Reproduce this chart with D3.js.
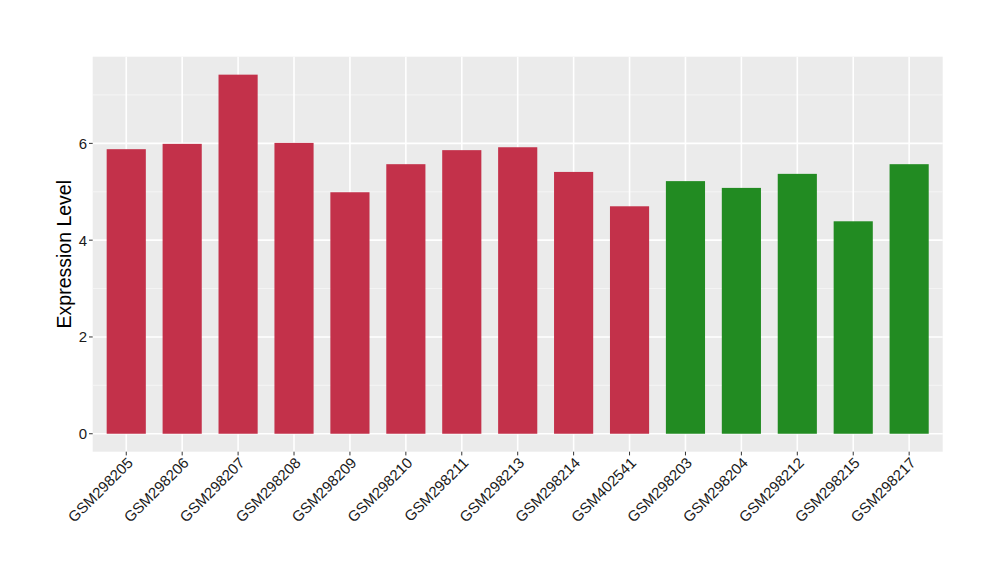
<!DOCTYPE html>
<html><head><meta charset="utf-8">
<script src="https://cdn.jsdelivr.net/npm/d3@7"></script>
<style>body{margin:0;background:#fff;} text{font-family:"Liberation Sans",Arial,sans-serif;}</style>
</head><body><svg id="c" width="1000" height="580"></svg>
<script>
const samples = ["GSM298205","GSM298206","GSM298207","GSM298208","GSM298209","GSM298210","GSM298211","GSM298213","GSM298214","GSM402541","GSM298203","GSM298204","GSM298212","GSM298215","GSM298217"];
const values = [5.88,5.99,7.42,6.01,4.99,5.57,5.86,5.92,5.41,4.70,5.22,5.08,5.37,4.39,5.57];
const groups = ["A","A","A","A","A","A","A","A","A","A","B","B","B","B","B"];
const groupColors = {A:"#C3314A", B:"#228B22"};
const yTicks = [0,2,4,6];
const yMinor = [1,3,5,7];
const yTitle = "Expression Level";

const svg = d3.select("#c");
const L = 92.7, R = 942.7, T = 56.7, B = 451.7;
const vmax = d3.max(values);
const pad = vmax*0.05;
const y = d3.scaleLinear().domain([-pad, vmax+pad]).range([B, T]);
const step = (R-L)/(samples.length - 1 + 1.2);
const x = d3.scalePoint().domain(samples).range([L+0.6*step, R-0.6*step]);
const bw = step*0.7;

svg.append("rect").attr("x",L).attr("y",T).attr("width",R-L).attr("height",B-T).attr("fill","#EBEBEB");
svg.selectAll(".ymin").data(yMinor).enter().append("line")
  .attr("x1",L).attr("x2",R).attr("y1",d=>y(d)).attr("y2",d=>y(d))
  .attr("stroke","#F5F5F5").attr("stroke-width",1);
svg.selectAll(".ymaj").data(yTicks).enter().append("line")
  .attr("x1",L).attr("x2",R).attr("y1",d=>y(d)).attr("y2",d=>y(d))
  .attr("stroke","#fff").attr("stroke-width",1.6);
svg.selectAll(".xmaj").data(samples).enter().append("line")
  .attr("x1",d=>x(d)).attr("x2",d=>x(d)).attr("y1",T).attr("y2",B)
  .attr("stroke","#fff").attr("stroke-width",1.6);

svg.selectAll(".bar").data(samples).enter().append("rect")
  .attr("x",d=>x(d)-bw/2).attr("width",bw)
  .attr("y",(d,i)=>y(values[i])).attr("height",(d,i)=>y(0)-y(values[i]))
  .attr("fill",(d,i)=>groupColors[groups[i]]);

// y axis
const ya = svg.append("g");
yTicks.forEach(t=>{
  ya.append("line").attr("x1",L-3.7).attr("x2",L).attr("y1",y(t)).attr("y2",y(t)).attr("stroke","#333").attr("stroke-width",1);
  ya.append("text").attr("x",L-5.5).attr("y",y(t)).attr("dy","0.36em").attr("text-anchor","end")
    .attr("font-size",15).attr("fill","#1a1a1a").text(t);
});
// x axis
const xa = svg.append("g");
samples.forEach(s=>{
  xa.append("line").attr("x1",x(s)).attr("x2",x(s)).attr("y1",B).attr("y2",B+3.7).attr("stroke","#333").attr("stroke-width",1);
  xa.append("text").attr("transform",`translate(${x(s)},${B+4.5})rotate(-45)`)
    .attr("text-anchor","end").attr("dy","0.71em").attr("font-size",15).attr("fill","#1a1a1a").text(s);
});
svg.append("text").attr("transform",`translate(71,${(T+B)/2})rotate(-90)`)
  .attr("text-anchor","middle").attr("font-size",19.5).attr("fill","#000").text(yTitle);
</script></body></html>
